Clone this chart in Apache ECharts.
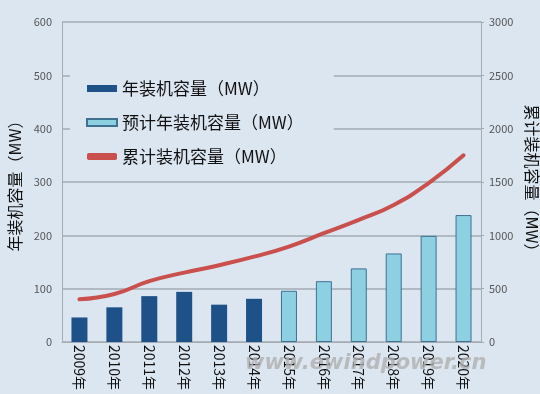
<!DOCTYPE html>
<html>
<head>
<meta charset="utf-8">
<script src="https://cdn.jsdelivr.net/npm/echarts@6/dist/echarts.min.js"></script>
<style>
html,body{margin:0;padding:0;background:#dce6f1;}
#c{width:540px;height:394px;}
</style>
</head>
<body>
<div id="c"></div>
<script>
const categories = ['2009年','2010年','2011年','2012年','2013年','2014年','2015年','2016年','2017年','2018年','2019年','2020年'];
const annual = [46, 65, 86, 94, 70, 81, null, null, null, null, null, null];
const forecast = [null, null, null, null, null, null, 96, 114, 138, 166, 199, 238];
const cumulative = [400, 450, 570, 650, 720, 800, 895, 1020, 1145, 1285, 1490, 1750];
const seriesNames = ['年装机容量（MW）', '预计年装机容量（MW）', '累计装机容量（MW）'];
const leftAxisName = '年装机容量（MW）';
const rightAxisName = '累计装机容量（MW）';
const watermark = 'www.ewindpower.cn';

const chart = echarts.init(document.getElementById('c'), null, {renderer: 'canvas'});
const fontFamily = '"Noto Sans CJK SC", "Noto Sans", sans-serif';
const gridColor = '#a3abb3';

chart.setOption({
  backgroundColor: '#dce6f1',
  animation: false,
  textStyle: {fontFamily: fontFamily},
  grid: {left: 62, right: 59, top: 22, bottom: 52, containLabel: false, outerBoundsMode: 'none'},
  legend: {
    orient: 'vertical',
    left: 70,
    top: 63,
    padding: [17, 30, 15, 16],
    backgroundColor: '#dce6f1',
    itemGap: 17,
    itemWidth: 30,
    itemHeight: 7,
    textStyle: {fontSize: 17, color: '#111', fontFamily: fontFamily},
    data: [
      {name: seriesNames[0], icon: 'rect'},
      {name: seriesNames[1], icon: 'rect'},
      {name: seriesNames[2], icon: 'roundRect', itemStyle: {color: '#c9504c'}}
    ]
  },
  xAxis: {
    type: 'category',
    data: categories,
    axisLine: {lineStyle: {color: gridColor, width: 1}},
    axisTick: {show: false},
    axisLabel: {rotate: -90, color: '#111', fontSize: 14, margin: 3, interval: 0, fontFamily: fontFamily}
  },
  yAxis: [
    {
      type: 'value', min: 0, max: 600, interval: 100,
      name: leftAxisName, nameLocation: 'middle', nameRotate: 90, nameGap: 32,
      nameTextStyle: {fontSize: 16, color: '#111', fontFamily: fontFamily},
      axisLine: {show: true, lineStyle: {color: gridColor}},
      axisTick: {show: false},
      axisLabel: {color: '#555', fontSize: 11, margin: 10},
      splitLine: {show: true, lineStyle: {color: gridColor, width: 1.5}}
    },
    {
      type: 'value', min: 0, max: 3000, interval: 500,
      name: rightAxisName, nameLocation: 'middle', nameRotate: -90, nameGap: 38,
      nameTextStyle: {fontSize: 16, color: '#111', fontFamily: fontFamily},
      axisLine: {show: true, lineStyle: {color: gridColor}},
      axisTick: {show: true, length: 3, lineStyle: {color: gridColor}},
      axisLabel: {color: '#555', fontSize: 11, margin: 8, formatter: function (v) { return String(v); }},
      splitLine: {show: false}
    }
  ],
  series: [
    {
      name: seriesNames[0], type: 'bar', yAxisIndex: 0, data: annual,
      barWidth: 16, barGap: '-100%',
      itemStyle: {color: '#1f5189'}
    },
    {
      name: seriesNames[1], type: 'bar', yAxisIndex: 0, data: forecast,
      barWidth: 16, barGap: '-100%',
      itemStyle: {color: '#8dd0e2', borderColor: '#3e7190', borderWidth: 1}
    },
    {
      name: seriesNames[2], type: 'line', yAxisIndex: 1, data: cumulative,
      smooth: true, showSymbol: false, symbol: 'none',
      lineStyle: {color: '#c9504c', width: 4, cap: 'round'},
      itemStyle: {color: '#c9504c'}, z: 3
    }
  ],
  graphic: [
    {
      type: 'text', left: 245, top: 353, z: 100,
      style: {text: watermark, fill: 'rgba(175,175,175,0.8)', font: 'italic bold 21px "DejaVu Sans", sans-serif'}
    }
  ]
});
</script>
</body>
</html>
